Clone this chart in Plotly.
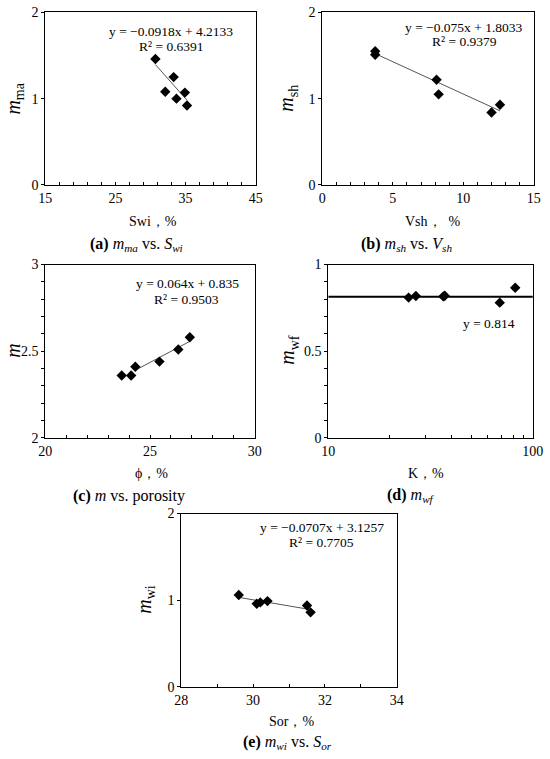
import plotly.graph_objects as go

W, H = 550, 759

# panel data
swi = [30.7, 32.1, 33.3, 33.7, 34.9, 35.2]
m_ma = [1.46, 1.08, 1.25, 1.00, 1.07, 0.92]

vsh = [3.75, 3.75, 8.1, 8.25, 12.0, 12.6]
m_sh = [1.55, 1.51, 1.22, 1.05, 0.84, 0.93]

phi = [23.65, 24.1, 24.3, 25.45, 26.35, 26.9]
m_phi = [2.36, 2.36, 2.41, 2.44, 2.51, 2.58]

perm = [24.7, 26.8, 36.5, 37.1, 68.9, 82.0]
m_wf = [0.809, 0.818, 0.816, 0.820, 0.780, 0.866]

sor = [29.6, 30.1, 30.2, 30.4, 31.5, 31.6]
m_wi = [1.06, 0.96, 0.975, 0.99, 0.94, 0.86]

# trend line coefficients (slope, intercept)
fit_a = (-0.0918, 4.2133)
fit_b = (-0.075, 1.8033)
fit_c = (0.064, 0.835)
fit_d = 0.814
fit_e = (-0.0707, 3.1257)

FONT = "Liberation Serif"

# the photographed page comes out slightly shrunk and shifted,
# so target pixels are mapped back into figure space
OX, OY, SX, SY = 5.5, 5.5, 0.974, 0.984


def px(x):
    return (x - OX) / SX / W


def py(y):
    return 1 - (y - OY) / SY / H


fig = go.Figure()
annos = []


def trend(n, xs, fit, x0=None):
    a, b = fit
    lo = min(xs) if x0 is None else x0
    hi = max(xs)
    fig.add_trace(go.Scatter(x=[lo, hi], y=[a * lo + b, a * hi + b], mode="lines",
                             line=dict(color="#555555", width=1),
                             xaxis="x%d" % n, yaxis="y%d" % n, showlegend=False))


def points(n, xs, ys):
    fig.add_trace(go.Scatter(x=xs, y=ys, mode="markers",
                             marker=dict(symbol="diamond", size=8, color="black"),
                             xaxis="x%d" % n, yaxis="y%d" % n, showlegend=False))


def axes(n, xdom, ydom, xr, xticks, xminor, yr, yticks, yminor=None, xtype="linear"):
    common = dict(showline=True, linecolor="black", linewidth=1, mirror=True,
                  showgrid=False, zeroline=False, ticks="outside", ticklen=3,
                  tickcolor="black", tickfont=dict(family=FONT, size=14, color="black"))
    xa = dict(common, domain=xdom, range=xr, type=xtype, tickvals=xticks,
              ticks="inside", anchor="y%d" % n,
              minor=dict(tickvals=xminor, ticks="inside", ticklen=3, tickcolor="black"))
    ya = dict(common, domain=ydom, range=yr, tickvals=yticks, anchor="x%d" % n)
    if yminor:
        ya["minor"] = dict(tickvals=yminor, ticks="outside", ticklen=3, tickcolor="black")
    key = "" if n == 1 else str(n)
    fig.update_layout(**{"xaxis" + key: xa, "yaxis" + key: ya})


def text(x, y, s, size=13.5, angle=0, xanchor="center"):
    annos.append(dict(x=px(x), y=py(y), xref="paper", yref="paper", text=s,
                      showarrow=False, textangle=angle, xanchor=xanchor, yanchor="middle",
                      font=dict(family=FONT, size=size, color="black")))


CAP = 16

# (a)
trend(1, swi, fit_a)
points(1, swi, m_ma)
axes(1, [px(44), px(256)], [py(184), py(11)], [15, 45], [15, 25, 35, 45],
     list(range(17, 45, 2)), [0, 2], [0, 1, 2])
text(171, 30, "y = −0.0918x + 4.2133")
text(171, 45, "R² = 0.6391")
text(153, 221, "Swi，%", 14)
text(13, 97, "<i>m</i><sub>ma</sub>", 20, -90)
text(136, 244, "<b>(a)</b> <i>m<sub>ma</sub></i> vs. <i>S<sub>wi</sub></i>", CAP)

# (b)
trend(2, vsh, fit_b)
points(2, vsh, m_sh)
axes(2, [px(323), px(536)], [py(184), py(11)], [0, 15], [0, 5, 10, 15],
     list(range(1, 15)), [0, 2], [0, 1, 2])
text(466, 26, "y = −0.075x + 1.8033")
text(466, 40, "R² = 0.9379")
text(434, 221, "Vsh，  %", 14)
text(288, 97, "<i>m</i><sub>sh</sub>", 20, -90)
text(408, 244, "<b>(b)</b> <i>m<sub>sh</sub></i> vs. <i>V<sub>sh</sub></i>", CAP)

# (c)
trend(3, phi, fit_c, x0=24.3)
points(3, phi, m_phi)
axes(3, [px(44), px(255)], [py(438), py(264)], [20, 30], [20, 25, 30],
     list(range(21, 30)), [2, 3], [2, 2.5, 3],
     yminor=[2.1, 2.2, 2.3, 2.4, 2.6, 2.7, 2.8, 2.9])
text(187, 283, "y = 0.064x + 0.835")
text(186, 299, "R² = 0.9503")
text(151, 474, "ϕ，%", 14)
text(12, 350, "<i>m</i>", 20, -90)
text(128, 496, "<b>(c)</b> <i>m</i> vs. porosity", CAP)

# (d)
fig.add_trace(go.Scatter(x=[10, 100], y=[fit_d, fit_d], mode="lines",
                         line=dict(color="black", width=2),
                         xaxis="x4", yaxis="y4", showlegend=False))
points(4, perm, m_wf)
axes(4, [px(329), px(535)], [py(438), py(264)], [1, 2], [10, 100],
     [20, 30, 40, 50, 60, 70, 80, 90], [0, 1], [0, 0.5, 1],
     yminor=[0.1, 0.2, 0.3, 0.4, 0.6, 0.7, 0.8, 0.9], xtype="log")
text(491, 323, "y = 0.814")
text(427, 474, "K，%", 14)
text(289, 350, "<i>m</i><sub>wf</sub>", 20, -90)
text(412, 496, "<b>(d)</b> <i>m<sub>wf</sub></i>", CAP)

# (e)
trend(5, sor, fit_e)
points(5, sor, m_wi)
axes(5, [px(181), px(398)], [py(688), py(514)], [28, 34], [28, 30, 32, 34],
     [29, 31, 33], [0, 2], [0, 1, 2])
text(323, 528, "y = −0.0707x + 3.1257")
text(322, 543, "R² = 0.7705")
text(292, 723, "Sor，%", 14)
text(145, 600, "<i>m</i><sub>wi</sub>", 20, -90)
text(288, 744, "<b>(e)</b> <i>m<sub>wi</sub></i> vs. <i>S<sub>or</sub></i>", CAP)

fig.update_layout(width=W, height=H, margin=dict(l=0, r=0, t=0, b=0),
                  paper_bgcolor="white", plot_bgcolor="white",
                  annotations=annos, showlegend=False)

# drop the default page margin so the figure fills the window
fig.write_html("out.html", config={"displayModeBar": False},
               post_script="document.body.style.margin='0';")
